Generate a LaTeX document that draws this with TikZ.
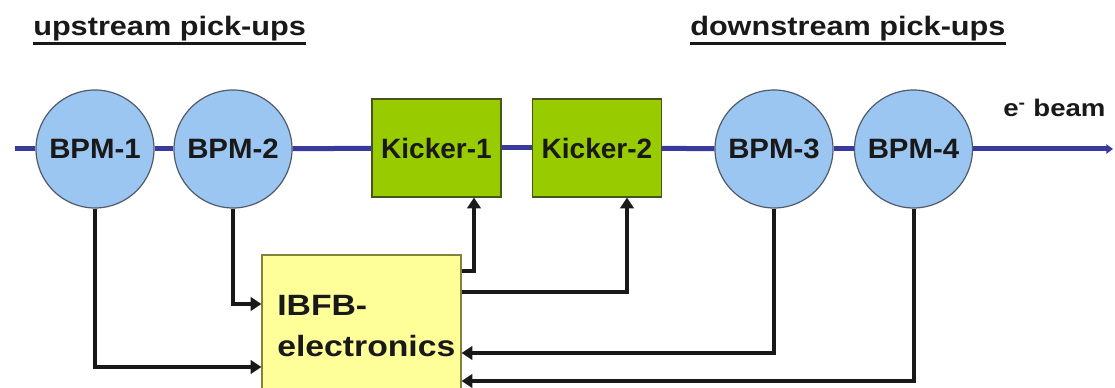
\documentclass[tikz,border=0pt]{standalone}
\usepackage{fontspec}
\setmainfont{Liberation Sans}
\newfontfamily\bpmfont[FakeStretch=1.05]{Liberation Sans}
\newfontfamily\ibfont[FakeStretch=1.15]{Liberation Sans}
\newfontfamily\hdfont[FakeStretch=1.15]{Liberation Sans}
\usetikzlibrary{arrows.meta}
\definecolor{beamblue}{RGB}{58,58,158}
\definecolor{bpmfill}{RGB}{156,198,242}
\definecolor{bpmedge}{RGB}{80,90,105}
\definecolor{kickfill}{RGB}{153,204,0}
\definecolor{kickedge}{RGB}{70,85,30}
\definecolor{ibfill}{RGB}{255,255,153}
\definecolor{ibedge}{RGB}{130,130,60}
\tikzset{
  bpm/.style={circle, draw=bpmedge, line width=0.9pt, fill=bpmfill, minimum size=88.5pt, inner sep=0pt,
    font=\bpmfont\bfseries\fontsize{21}{24}\selectfont, text=black!90},
  kicker/.style={rectangle, draw=kickedge, line width=0.9pt, fill=kickfill, minimum width=96.75pt, minimum height=73.5pt, inner sep=0pt,
    font=\bfseries\fontsize{21}{24}\selectfont, text=black!90},
  ibbox/.style={rectangle, draw=ibedge, line width=0.9pt, fill=ibfill, minimum width=149.25pt, minimum height=108.75pt, inner sep=0pt},
  ibtext/.style={inner sep=0pt, align=left, font=\ibfont\bfseries\fontsize{22}{31}\selectfont, text=black!90},
  hdr/.style={inner sep=0pt, font=\hdfont\bfseries\fontsize{20}{24}\selectfont, text=black!90},
  uline/.style={line width=2pt, black!90},
  beamlabel/.style={inner sep=0pt, font=\hdfont\bfseries\fontsize{18}{20}\selectfont, text=black!90},
  beamline/.style={line width=3.75pt, beamblue},
  sig/.style={line width=3pt, black!90, line join=miter, -{Triangle[length=8pt,width=10pt]}}
}
\begin{document}
\begin{tikzpicture}[x=0.75pt,y=-0.75pt]
\useasboundingbox (0,0) rectangle (1115,388);
\clip (0,0) rectangle (1115,388);

% helper coordinates
\coordinate (bs) at (15,149);
\coordinate (be) at (1113,149);
\coordinate (r1) at (0,367);
\coordinate (r2) at (0,304);
\coordinate (k1y) at (0,271);
\coordinate (k2y) at (0,292);
\coordinate (r3) at (0,353);
\coordinate (r4) at (0,381);
\coordinate (k1x) at (474,0);
\coordinate (k2x) at (627,0);

% nodes
\node[bpm] (b1) at (95,149) {BPM-1};
\node[bpm] (b2) at (233,149) {BPM-2};
\node[kicker] (k1) at (436.5,148) {Kicker-1};
\node[kicker] (k2) at (597,148) {Kicker-2};
\node[bpm] (b3) at (774,149) {BPM-3};
\node[bpm] (b4) at (913.5,149) {BPM-4};
\node[ibbox] (ib) at (361.5,327.5) {};
\node[ibtext, anchor=base west] (ibt) at (277,357) {IBFB-\\electronics};

% headers
\node[hdr, anchor=base west] (h1) at (33,36) {upstream pick-ups};
\node[hdr, anchor=base west] (h2) at (690,36) {downstream pick-ups};
\draw[uline] ([yshift=-5.5pt]h1.base west) -- ([yshift=-5.5pt]h1.base east);
\draw[uline] ([yshift=-5.5pt]h2.base west) -- ([yshift=-5.5pt]h2.base east);
\node[beamlabel, anchor=base west] (bl) at (1003,117) {e\textsuperscript{-} beam};

% beam line
\draw[beamline] (bs) -- (b1);
\draw[beamline] (b1) -- (b2);
\draw[beamline] (b2) -- (k1);
\draw[beamline] (k1) -- (k2);
\draw[beamline] (k2) -- (b3);
\draw[beamline] (b3) -- (b4);
\draw[beamline, -{Triangle[length=5pt,width=7pt]}] (b4) -- (be);

% signals
\draw[sig] (b1.south) |- (ib.west |- r1);
\draw[sig] (b2.south) |- (ib.west |- r2);
\draw[sig] (ib.east |- k1y) -| (k1.south -| k1x);
\draw[sig] (ib.east |- k2y) -| (k2.south -| k2x);
\draw[sig] (b3.south) |- (ib.east |- r3);
\draw[sig] (b4.south) |- (ib.east |- r4);
\end{tikzpicture}
\end{document}
